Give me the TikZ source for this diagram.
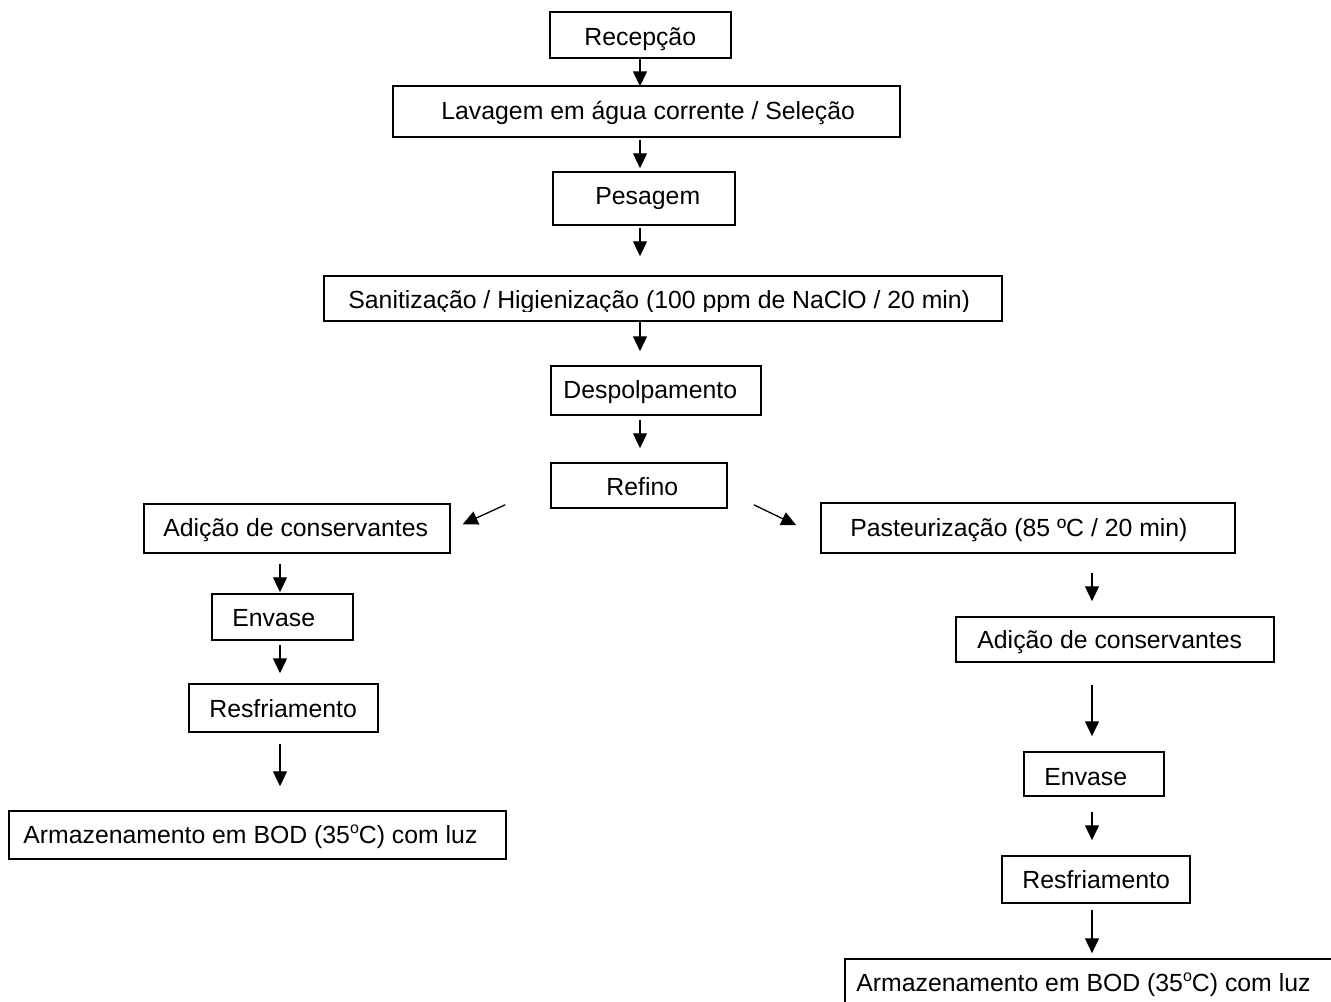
\documentclass[tikz,border=0pt]{standalone}
\usepackage{fontspec}
\setmainfont{Liberation Sans}
\usetikzlibrary{arrows.meta,fit,calc}
\newcommand{\supo}{\raisebox{0.75ex}{\fontsize{8pt}{8pt}\selectfont o}}
\tikzset{
  boxst/.style={draw=black, line width=0.75pt, inner sep=0pt, fill=none},
  txt/.style={anchor=base west, inner sep=0pt, font=\fontsize{12.4pt}{15pt}\selectfont},
  arr/.style={draw=black, line width=0.65pt, -{Triangle[length=7.5pt,width=7pt]}}
}
\begin{document}
\begin{tikzpicture}[x=0.5pt,y=-0.5pt]
\useasboundingbox (0,0) rectangle (1331,1001);
\clip (0,0) rectangle (1331,1001);
\fill[white] (0,0) rectangle (1331,1001);
% column coordinates
\coordinate (cC) at (640,0);
\coordinate (cL) at (280,0);
\coordinate (cR) at (1092,0);
% boxes
\node[boxst, fit={(550,12) (731,58)}] (rec) {};
\node[boxst, fit={(393,86) (900,137)}] (lav) {};
\node[boxst, fit={(553,172) (735,225)}] (pes) {};
\node[boxst, fit={(324,276) (1002,321)}] (san) {};
\node[boxst, fit={(551,366) (761,415)}] (des) {};
\node[boxst, fit={(551,463) (727,508)}] (ref) {};
\node[boxst, fit={(144,504) (450,553)}] (adl) {};
\node[boxst, fit={(212,594) (353,640)}] (envl) {};
\node[boxst, fit={(189,684) (378,732)}] (resl) {};
\node[boxst, fit={(9,811) (506,859)}] (arml) {};
\node[boxst, fit={(821,503) (1235,553)}] (pas) {};
\node[boxst, fit={(956,617) (1274,662)}] (adr) {};
\node[boxst, fit={(1024,752) (1164,796)}] (envr) {};
\node[boxst, fit={(1002,856) (1190,903)}] (resr) {};
\node[boxst, fit={(845,959) (1345,1020)}] (armr) {};
% texts
\node[txt] (rec-t) at (584,45) {Recepção};
\node[txt] (lav-t) at (441,119) {Lavagem em água corrente / Seleção};
\node[txt] (pes-t) at (595,204) {Pesagem};
\begin{scope}
\clip (324,276) rectangle (1002,311);
\node[txt] (san-t) at (348,308) {Sanitização / Higienização (100 ppm de NaClO / 20 min)};
\end{scope}
\node[txt] (des-t) at (563,398) {Despolpamento};
\node[txt] (ref-t) at (606,495) {Refino};
\node[txt] (adl-t) at (163,536) {Adição de conservantes};
\node[txt] (envl-t) at (232,626) {Envase};
\node[txt] (resl-t) at (209,717) {Resfriamento};
\node[txt] (arml-t) at (23,843) {Armazenamento em BOD (35\supo C) com luz};
\node[txt] (pas-t) at (850,536) {Pasteurização (85 ºC / 20 min)};
\node[txt] (adr-t) at (977,648) {Adição de conservantes};
\node[txt] (envr-t) at (1044,785) {Envase};
\node[txt] (resr-t) at (1022,888) {Resfriamento};
\node[txt] (armr-t) at (856,991) {Armazenamento em BOD (35\supo C) com luz};
% central arrows
\draw[arr] (rec.south -| cC) -- ($(lav.north -| cC)+(0,1)$);
\draw[arr] ($(lav.south -| cC)+(0,2)$) -- ($(pes.north -| cC)+(0,-3)$);
\draw[arr] ($(pes.south -| cC)+(0,2)$) -- ($(san.north -| cC)+(0,-19)$);
\draw[arr] (san.south -| cC) -- ($(des.north -| cC)+(0,-14)$);
\draw[arr] ($(des.south -| cC)+(0,4)$) -- ($(ref.north -| cC)+(0,-14)$);
% diagonal arrows
\draw[arr] ($(ref.south west)+(-45,-4)$) -- ($(adl.north east)+(12,21)$);
\draw[arr] ($(ref.south east)+(26,-4)$) -- ($(pas.north west)+(-24,23)$);
% left branch
\draw[arr] ($(adl.south -| cL)+(0,10)$) -- ($(envl.north -| cL)+(0,-1)$);
\draw[arr] ($(envl.south -| cL)+(0,4)$) -- ($(resl.north -| cL)+(0,-10)$);
\draw[arr] ($(resl.south -| cL)+(0,11)$) -- ($(arml.north -| cL)+(0,-24)$);
% right branch
\draw[arr] ($(pas.south -| cR)+(0,19)$) -- ($(adr.north -| cR)+(0,-15)$);
\draw[arr] ($(adr.south -| cR)+(0,22)$) -- ($(envr.north -| cR)+(0,-15)$);
\draw[arr] ($(envr.south -| cR)+(0,15)$) -- ($(resr.north -| cR)+(0,-15)$);
\draw[arr] ($(resr.south -| cR)+(0,6)$) -- ($(armr.north -| cR)+(0,-5)$);
\end{tikzpicture}
\end{document}
